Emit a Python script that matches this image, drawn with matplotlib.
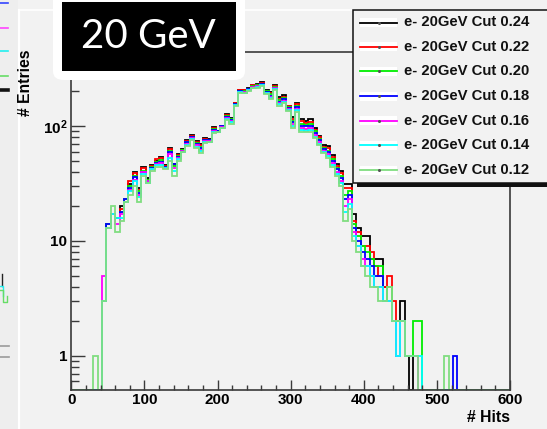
import numpy as np
import matplotlib
matplotlib.use("Agg")
import matplotlib.pyplot as plt
from matplotlib.patches import Rectangle, FancyBboxPatch
from matplotlib.lines import Line2D
from matplotlib.ticker import MultipleLocator, LogLocator, NullFormatter, FixedLocator, FixedFormatter

plt.rcParams["font.family"] = ["Liberation Sans", "DejaVu Sans"]
plt.rcParams["mathtext.fontset"] = "custom"
plt.rcParams["mathtext.rm"] = "Liberation Sans:bold"
plt.rcParams["mathtext.bf"] = "Liberation Sans:bold"

# ---- histogram definition: 6-hit bins, counts listed from 30 hits upward ----
hit_range = (0, 600)
bin_width = 6
first_edge = 30

labels = ["e- 20GeV Cut 0.24", "e- 20GeV Cut 0.22", "e- 20GeV Cut 0.20",
          "e- 20GeV Cut 0.18", "e- 20GeV Cut 0.16", "e- 20GeV Cut 0.14",
          "e- 20GeV Cut 0.12"]

cut_024 = [0, 0, 3, 14, 17, 16, 20, 23, 31, 40,
           29, 44, 35, 46, 50, 54, 46, 65, 47, 57,
           63, 75, 83, 74, 70, 78, 77, 98, 91, 100,
           127, 118, 160, 206, 206, 213, 228, 230, 240, 206,
           198, 226, 178, 185, 150, 119, 158, 114, 110, 114,
           96, 82, 68, 67, 56, 47, 41, 31, 31, 17,
           13, 11, 11, 7, 7, 7, 4, 4, 2, 1,
           3, 1, 0, 1, 0, 0, 0, 0, 0, 0,
           0, 0, 0]
cut_022 = [0, 0, 3, 14, 17, 16, 19, 23, 33, 39,
           28, 43, 34, 45, 52, 53, 45, 63, 46, 56,
           62, 74, 82, 72, 68, 77, 76, 96, 90, 100,
           124, 116, 158, 204, 204, 211, 225, 228, 237, 203,
           193, 223, 173, 180, 148, 115, 154, 110, 106, 109,
           93, 80, 66, 64, 54, 45, 39, 29, 29, 15,
           12, 9, 9, 8, 6, 5, 4, 5, 3, 1,
           2, 1, 1, 1, 0, 0, 0, 0, 0, 0,
           0, 0, 0]
cut_020 = [0, 0, 3, 14, 17, 16, 18, 23, 30, 37,
           27, 41, 34, 44, 49, 51, 44, 61, 45, 55,
           62, 73, 81, 71, 66, 76, 75, 95, 90, 99,
           122, 114, 156, 202, 201, 210, 223, 225, 234, 200,
           188, 219, 168, 175, 145, 111, 149, 105, 103, 104,
           90, 77, 65, 61, 52, 43, 37, 25, 27, 14,
           11, 9, 8, 7, 6, 6, 3, 4, 2, 2,
           2, 1, 1, 2, 2, 0, 0, 0, 0, 0,
           0, 0, 0]
cut_018 = [0, 0, 3, 14, 17, 16, 18, 23, 29, 36,
           26, 40, 33, 43, 48, 49, 44, 60, 47, 54,
           61, 72, 80, 70, 65, 75, 75, 93, 90, 99,
           120, 112, 155, 201, 199, 208, 220, 223, 231, 198,
           183, 215, 163, 171, 143, 108, 145, 100, 99, 100,
           87, 75, 63, 59, 50, 42, 35, 23, 25, 13,
           10, 8, 7, 6, 5, 5, 3, 3, 2, 1,
           2, 1, 1, 1, 0, 0, 0, 0, 0, 0,
           0, 0, 1]
cut_016 = [0, 0, 5, 13, 17, 14, 17, 22, 28, 34,
           25, 40, 33, 42, 47, 48, 43, 57, 43, 53,
           61, 70, 78, 68, 62, 74, 74, 91, 89, 98,
           118, 110, 153, 199, 197, 206, 218, 221, 228, 195,
           179, 212, 158, 166, 140, 104, 141, 96, 95, 96,
           84, 72, 61, 57, 48, 40, 33, 20, 23, 12,
           9, 7, 6, 5, 4, 4, 3, 3, 2, 1,
           2, 1, 1, 1, 0, 0, 0, 0, 0, 0,
           0, 0, 0]
cut_014 = [0, 0, 3, 13, 17, 16, 16, 22, 27, 33,
           24, 38, 32, 42, 46, 46, 43, 53, 41, 52,
           60, 69, 77, 66, 61, 73, 73, 89, 89, 97,
           116, 108, 151, 197, 195, 205, 216, 219, 225, 193,
           175, 209, 154, 162, 138, 100, 137, 92, 91, 92,
           81, 70, 60, 55, 46, 38, 32, 18, 21, 11,
           9, 6, 6, 5, 4, 4, 3, 3, 2, 1,
           2, 1, 1, 1, 1, 0, 0, 0, 0, 0,
           0, 0, 0]
cut_012 = [1, 0, 3, 13, 20, 12, 15, 22, 25, 30,
           22, 37, 32, 41, 44, 44, 42, 50, 37, 50,
           60, 67, 75, 64, 58, 71, 72, 87, 88, 96,
           113, 105, 149, 195, 193, 203, 213, 216, 222, 190,
           170, 206, 150, 158, 135, 97, 133, 89, 88, 88,
           79, 68, 58, 53, 44, 37, 30, 15, 19, 10,
           8, 6, 5, 4, 4, 3, 3, 4, 2, 2,
           2, 1, 1, 1, 0, 0, 0, 0, 0, 0,
           1, 0, 0]

series = [cut_024, cut_022, cut_020, cut_018, cut_016, cut_014, cut_012]
colors = ["#000000", "#ff0000", "#00ee00", "#0000ff", "#ff00ff", "#00ffff", "#80dd80"]

W, H = 547, 429
BG = "#f2f2f2"


def fx(x):
    return x / W


def fy(y):
    return 1 - y / H


fig = plt.figure(figsize=(W / 100, H / 100), dpi=100, facecolor=BG)

ax_left, ax_right, ax_top, ax_bot = 71.3, 510, 52, 390
ax = fig.add_axes([fx(ax_left), fy(ax_bot), (ax_right - ax_left) / W, (ax_bot - ax_top) / H])
ax.set_facecolor(BG)
ax.set_yscale("log")
ymin, ymax = 0.506, 440
ax.set_xlim(*hit_range)
ax.set_ylim(ymin, ymax)

n_bins = (hit_range[1] - hit_range[0]) // bin_width
edges = np.arange(hit_range[0], hit_range[1] + bin_width, bin_width)
offset = (first_edge - hit_range[0]) // bin_width
for vals, col in zip(series, colors):
    full = np.zeros(n_bins)
    full[offset:offset + len(vals)] = vals
    drawn = np.where(full > 0, full, ymin * 1.01)
    ax.stairs(drawn, edges, color=col, lw=1.3, baseline=None)

for side in ["left", "bottom", "right", "top"]:
    ax.spines[side].set_color("#3a3a3a")
    ax.spines[side].set_linewidth(1.2)

ax.xaxis.set_major_locator(MultipleLocator(100))
ax.xaxis.set_minor_locator(MultipleLocator(20))
ax.yaxis.set_major_locator(FixedLocator([1, 10, 100]))
ax.yaxis.set_major_formatter(FixedFormatter(["1", "10", r"$\mathbf{10^{2}}$"]))
ax.yaxis.set_minor_locator(LogLocator(subs=np.arange(2, 10)))
ax.yaxis.set_minor_formatter(NullFormatter())

ax.tick_params(axis="x", which="major", direction="in", length=7.2, width=1.0,
               color="#3a3a3a", pad=2.5, labelsize=11)
ax.tick_params(axis="x", which="minor", direction="in", length=3.6, width=1.0,
               color="#3a3a3a")
ax.tick_params(axis="y", which="major", direction="in", length=10, width=1.0,
               color="#3a3a3a", pad=3, labelsize=11)
ax.tick_params(axis="y", which="minor", direction="in", length=5.8, width=1.0,
               color="#3a3a3a")
for lab in ax.get_xticklabels() + ax.get_yticklabels():
    lab.set_fontweight("bold")

fig.text(fx(510), fy(417), "# Hits", ha="right", va="center",
         fontsize=11.3, fontweight="bold")
fig.text(fx(26), fy(50), "# Entries", ha="center", va="top", rotation=90,
         fontsize=11.3, fontweight="bold", zorder=9)

# ---- neighbouring panel strip on the far left ----
fig.add_artist(Rectangle((0, 0), fx(18), 1, transform=fig.transFigure,
                         facecolor="#eeeeee", edgecolor="none", zorder=4))
for yy, col, lw in [(3, "#3344ff", 1.2), (28, "#ff44ff", 1.2), (51, "#22eeee", 1.2),
                    (76, "#66dd66", 1.2), (89.5, "#111111", 2.6)]:
    fig.add_artist(Line2D([0, fx(8)], [fy(yy), fy(yy)], transform=fig.transFigure,
                          color=col, lw=lw, zorder=5))
for yy in [346, 357]:
    fig.add_artist(Line2D([0, fx(9)], [fy(yy), fy(yy)], transform=fig.transFigure,
                          color="#9a9a9a", lw=1.2, zorder=5))
# edge of a neighbouring histogram
fig.add_artist(Line2D([fx(1.5), fx(1.5)], [fy(274), fy(286)], transform=fig.transFigure,
                      color="#222222", lw=1.0, zorder=5))
fig.add_artist(Line2D([0, fx(2.5), fx(2.5)], [fy(286), fy(286), fy(296)],
                      transform=fig.transFigure, color="#22eeee", lw=1.0, zorder=5))
fig.add_artist(Line2D([0, fx(3), fx(3), fx(7), fx(7)], [fy(290), fy(290), fy(302), fy(302), fy(296)],
                      transform=fig.transFigure, color="#66dd66", lw=1.0, zorder=5))
fig.add_artist(Line2D([fx(18.5), fx(18.5)], [0, fy(10)], transform=fig.transFigure,
                      color="white", lw=1.6, zorder=5))
fig.add_artist(Line2D([fx(18.5), 1], [fy(10), fy(10)], transform=fig.transFigure,
                      color="white", lw=1.2, zorder=4))

# ---- legend box with shadow ----
lx0, ly0, lx1, ly1 = 353, 10, 560, 183
fig.add_artist(Rectangle((fx(lx0 + 4), fy(ly1 + 4)), (lx1 - lx0) / W, (ly1 - ly0) / H,
                         transform=fig.transFigure, facecolor="#111111",
                         edgecolor="none", zorder=6))
fig.add_artist(Rectangle((fx(lx0), fy(ly1)), (lx1 - lx0) / W, (ly1 - ly0) / H,
                         transform=fig.transFigure, facecolor=BG,
                         edgecolor="#111111", lw=1.1, zorder=7))
row_y = [22.5, 46.8, 71.4, 96.0, 120.6, 145.4, 170.5]
for yy, col, lab in zip(row_y, colors, labels):
    fig.add_artist(Rectangle((fx(360), fy(yy + 4.5)), 37 / W, 9 / H,
                             transform=fig.transFigure, facecolor="white",
                             edgecolor="none", zorder=8))
    fig.add_artist(Line2D([fx(360), fx(397)], [fy(yy), fy(yy)], transform=fig.transFigure,
                          color=col, lw=1.3, zorder=9))
    fig.add_artist(Line2D([fx(378.5)], [fy(yy)], transform=fig.transFigure, marker="o",
                          markersize=1.2, color="#555555", lw=0, zorder=10))
    fig.text(fx(404), fy(yy), lab, ha="left", va="center", fontsize=10.7,
             fontweight="bold", color="#111111", zorder=10)

# ---- energy tag ----
fig.add_artist(FancyBboxPatch((fx(53), fy(80)), 192 / W, 90 / H,
                              boxstyle="round,pad=0,rounding_size=0.02",
                              transform=fig.transFigure, facecolor="white",
                              edgecolor="none", zorder=6))
fig.add_artist(Rectangle((fx(62), fy(71)), 174 / W, 69 / H, transform=fig.transFigure,
                         facecolor="black", edgecolor="none", zorder=7))
fig.text(fx(148), fy(37), "20 GeV", ha="center", va="center", color="white",
         fontsize=29, family=["Lato", "DejaVu Sans"], zorder=8)

fig.savefig("out.png", dpi=100, facecolor=BG)
